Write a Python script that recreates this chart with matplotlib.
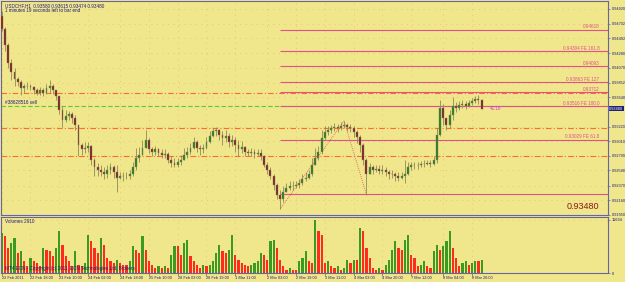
import matplotlib
matplotlib.use('Agg')
import matplotlib.pyplot as plt
import numpy as np

# USDCHF H1 bars, prices in pips (x 0.0001)
first_open = 9482
close_pips = [9463, 9439, 9414, 9400, 9391, 9386, 9377, 9380, 9381, 9379,
              9374, 9371, 9374, 9371, 9377, 9381, 9374, 9366, 9346, 9331,
              9337, 9340, 9334, 9324, 9296, 9289, 9291, 9294, 9274, 9263,
              9260, 9257, 9253, 9260, 9263, 9257, 9248, 9251, 9250, 9251,
              9254, 9263, 9277, 9281, 9291, 9303, 9289, 9286, 9289, 9284,
              9281, 9283, 9274, 9270, 9267, 9271, 9274, 9281, 9286, 9291,
              9300, 9291, 9289, 9291, 9300, 9309, 9316, 9317, 9310, 9306,
              9309, 9300, 9303, 9296, 9289, 9293, 9286, 9284, 9286, 9283,
              9284, 9280, 9267, 9260, 9251, 9238, 9224, 9217, 9228, 9234,
              9236, 9237, 9238, 9241, 9246, 9248, 9253, 9267, 9277, 9286,
              9306, 9314, 9317, 9320, 9321, 9320, 9323, 9324, 9321, 9320,
              9314, 9307, 9296, 9274, 9253, 9263, 9260, 9261, 9258, 9260,
              9257, 9253, 9254, 9250, 9248, 9251, 9254, 9263, 9266, 9267,
              9266, 9268, 9268, 9270, 9268, 9274, 9310, 9349, 9334, 9324,
              9339, 9351, 9349, 9353, 9354, 9351, 9356, 9359, 9361, 9360,
              9348]
high_pips = [9489, 9466, 9443, 9420, 9406, 9394, 9389, 9384, 9386, 9384,
             9380, 9377, 9379, 9377, 9383, 9389, 9383, 9374, 9366, 9351,
             9346, 9344, 9343, 9339, 9324, 9299, 9300, 9300, 9296, 9277,
             9270, 9267, 9264, 9267, 9270, 9266, 9267, 9257, 9256, 9257,
             9260, 9271, 9291, 9293, 9303, 9317, 9306, 9293, 9294, 9291,
             9290, 9289, 9286, 9279, 9276, 9277, 9281, 9291, 9293, 9299,
             9307, 9303, 9296, 9297, 9307, 9316, 9320, 9321, 9319, 9316,
             9317, 9313, 9310, 9307, 9303, 9301, 9294, 9290, 9291, 9289,
             9290, 9289, 9281, 9271, 9263, 9254, 9240, 9231, 9237, 9241,
             9243, 9243, 9244, 9247, 9254, 9257, 9260, 9277, 9291, 9294,
             9317, 9323, 9323, 9324, 9327, 9326, 9329, 9330, 9327, 9326,
             9323, 9317, 9310, 9299, 9277, 9270, 9267, 9267, 9266, 9267,
             9264, 9260, 9260, 9257, 9256, 9257, 9274, 9271, 9271, 9271,
             9271, 9273, 9274, 9274, 9274, 9280, 9320, 9360, 9354, 9334,
             9346, 9364, 9357, 9359, 9360, 9359, 9360, 9363, 9366, 9367,
             9362]
low_pips = [9460, 9431, 9406, 9389, 9381, 9380, 9367, 9371, 9376, 9374,
            9369, 9367, 9367, 9366, 9369, 9371, 9369, 9360, 9340, 9321,
            9329, 9331, 9327, 9317, 9279, 9281, 9284, 9286, 9267, 9250,
            9251, 9250, 9246, 9248, 9253, 9248, 9228, 9246, 9244, 9246,
            9247, 9251, 9260, 9271, 9281, 9291, 9284, 9280, 9281, 9279,
            9277, 9277, 9269, 9264, 9263, 9264, 9267, 9274, 9277, 9283,
            9289, 9286, 9281, 9284, 9289, 9299, 9307, 9309, 9303, 9296,
            9300, 9293, 9294, 9286, 9279, 9284, 9280, 9279, 9280, 9277,
            9279, 9274, 9263, 9253, 9246, 9231, 9217, 9203, 9213, 9227,
            9230, 9231, 9233, 9234, 9238, 9243, 9246, 9250, 9266, 9274,
            9283, 9303, 9310, 9313, 9316, 9314, 9317, 9320, 9316, 9314,
            9307, 9299, 9286, 9267, 9224, 9253, 9254, 9256, 9253, 9254,
            9251, 9247, 9248, 9244, 9243, 9246, 9241, 9252, 9260, 9261,
            9261, 9263, 9264, 9266, 9264, 9267, 9270, 9308, 9324, 9317,
            9320, 9331, 9343, 9346, 9349, 9347, 9350, 9353, 9356, 9354,
            9347]
volumes = [8800, 8140, 5500, 6600, 7700, 4400, 4840, 2640, 1540, 3300,
           2640, 2200, 1540, 5500, 5060, 4840, 3740, 5500, 9240, 6160,
           3740, 2640, 1540, 4840, 1760, 1540, 2200, 8360, 7040, 5500,
           4400, 7700, 6160, 3300, 2640, 2200, 2860, 2200, 1760, 1760,
           2640, 5940, 5060, 4400, 8140, 5060, 2640, 1760, 1100, 1540,
           1100, 1540, 1100, 3960, 5940, 5940, 3960, 6600, 7260, 3740,
           2640, 1760, 1100, 1760, 1540, 1760, 2640, 4400, 6160, 4840,
           4400, 5060, 8360, 3960, 2860, 2200, 1760, 1540, 1760, 2200,
           2640, 4400, 3960, 2860, 7040, 7260, 5500, 2860, 1540, 660,
           1100, 660, 660, 2640, 3300, 4840, 2640, 2200, 11694, 9240,
           8360, 2200, 2640, 1540, 1100, 1540, 660, 1100, 2860, 2200,
           2860, 2860, 9900, 9240, 5500, 3300, 1100, 660, 1100, 660,
           1760, 2860, 5060, 7040, 5500, 5060, 7260, 8360, 3960, 3300,
           1540, 1760, 2640, 1540, 1100, 4840, 6160, 5060, 5940, 7040,
           9240, 5500, 3300, 1540, 2200, 2640, 1760, 2200, 2640, 2640,
           2910]

# x axis labels (bar index -> time label)
tick_bars = [0, 9, 18, 27, 37, 46, 55, 64, 73, 83, 92, 101, 110, 119, 128, 138, 147]
tick_labels = ['22 Feb 2011', '22 Feb 18:00', '23 Feb 10:00', '24 Feb 02:00',
               '24 Feb 18:00', '25 Feb 10:00', '28 Feb 03:00', '28 Feb 19:00',
               '1 Mar 11:00', '2 Mar 03:00', '2 Mar 19:00', '3 Mar 11:00',
               '4 Mar 03:00', '4 Mar 20:00', '7 Mar 12:00', '8 Mar 04:00',
               '8 Mar 20:00']
price_ticks = [0.94920, 0.94702, 0.94492, 0.94280, 0.94070, 0.93852, 0.93640,
               0.93220, 0.93010, 0.92799, 0.92588, 0.92370, 0.92160, 0.91950]

# fibo expansion levels and other objects
fe_levels = [0.94618, 0.94304, 0.94093, 0.93863, 0.93712, 0.93516, 0.93029, 0.92241]
fe_labels = ['0.94618', '0.94304 FE 161.8', '0.94093', '0.93863 FE 127',
             '0.93712', '0.93516 FE 100.0', '0.93029 FE 61.8', '']
fe_anchor_bars = [87, 107, 114]
fe_anchor_prices = [0.92030, 0.93300, 0.92241]
dashdot_levels = [0.93707, 0.93195, 0.92795]
order_level = 0.93514
last_price = 0.93480

close = np.array(close_pips) / 10000
high = np.array(high_pips) / 10000
low = np.array(low_pips) / 10000
open_ = np.concatenate([[first_open / 10000], close[:-1]])
high = np.maximum(high, np.maximum(open_, close))
low = np.minimum(low, np.minimum(open_, close))
bars = np.arange(len(close))

bg = '#F0E68C'
frame = '#6464a8'
navy = '#1c1c80'
pink = '#e0508a'
small = dict(family='Liberation Sans', fontsize=3.3)
tiny = dict(family='Liberation Sans', fontsize=2.8)

fig = plt.figure(figsize=(6.25, 2.82), dpi=100, facecolor=bg)
ax = fig.add_axes([0.0016, 0.2376, 0.9712, 0.7589], facecolor=bg)
axv = fig.add_axes([0.0016, 0.0319, 0.9712, 0.1986], facecolor=bg)

# candles
up = close >= open_
ax.vlines(bars, low, high, color='#8e8a5a', linewidth=0.6, zorder=3)
body_lo = np.minimum(open_, close)
body_h = np.maximum(np.abs(close - open_), 0.00004)
ax.bar(bars[up], body_h[up], bottom=body_lo[up], width=0.6,
       color='#237a23', edgecolor='#8e8a5a', linewidth=0.3, zorder=4)
ax.bar(bars[~up], body_h[~up], bottom=body_lo[~up], width=0.6,
       color='#7a1c2a', edgecolor='#8e8a5a', linewidth=0.3, zorder=4)

# horizontal objects
xmax = 189.5
for lev in dashdot_levels:
    ax.axhline(lev, color='#ff6a30', linestyle=(0, (5, 2, 1, 2)), linewidth=0.8, zorder=2)
ax.axhline(order_level, color='#5cc83c', linestyle=(0, (4, 2)), linewidth=0.8, zorder=2)
ax.text(1, order_level + 0.0001, '#38628516 sell', color=navy, va='bottom', **small)
for lev, lab in zip(fe_levels, fe_labels):
    ax.hlines(lev, fe_anchor_bars[0], xmax, color=pink, linewidth=0.8, zorder=2)
    if lab:
        ax.text(186.8, lev + 0.00005, lab, color=pink, ha='right', va='bottom', **small)
ax.plot(fe_anchor_bars, fe_anchor_prices, color='#d0506a', linestyle=(0, (1, 1.5)),
        linewidth=0.6, zorder=5)
ax.text(152.5, last_price + 0.00002, '41:18', color='#d040d0', va='center', **small)

ax.text(1, 0.94958, 'USDCHF,H1  0.93580 0.93615 0.93474 0.93480', color=navy,
        va='center', **small)
ax.text(1, 0.94887, '1 minutes 19 seconds left to bar end', color=navy,
        va='center', **small)
ax.text(186.8, 0.92005, '0.93480', color='#8b1a1a', ha='right', va='bottom',
        family='Liberation Sans', fontsize=6.5)

ax.set_xlim(-0.22, xmax)
ax.set_ylim(0.91945, 0.9503)
ax.yaxis.tick_right()
ax.set_yticks(price_ticks)
ax.set_yticklabels([f'{v:.5f}' for v in price_ticks], color=navy, **tiny)
ax.tick_params(axis='y', length=1.5, width=0.5, color=frame, pad=1)
ax.set_xticks(tick_bars)
ax.tick_params(axis='x', length=0, labelbottom=False)
ax.grid(True, color='#e2a868', linestyle=(0, (1, 7)), linewidth=0.5)
ax.set_axisbelow(True)
for sp in ax.spines.values():
    sp.set_color(frame)
    sp.set_linewidth(0.8)
# current price marker on the price scale
ax.text(1.002, last_price, f'{last_price:.5f}', transform=ax.get_yaxis_transform(),
        color='white', va='center', ha='left',
        bbox=dict(boxstyle='square,pad=0.15', fc='#20207a', ec='none'), **tiny)

# volumes
vol = np.array(volumes)
vol_up = np.concatenate([[True], vol[1:] > vol[:-1]])
axv.bar(bars[vol_up], vol[vol_up], width=0.7, color='#3a9a22', linewidth=0)
axv.bar(bars[~vol_up], vol[~vol_up], width=0.7, color='#ff2a20', linewidth=0)
axv.set_xlim(-0.22, xmax)
axv.set_ylim(0, 12300)
axv.yaxis.tick_right()
axv.set_yticks([0, 11694])
axv.set_yticklabels(['0', '11694'], color=navy, **tiny)
axv.tick_params(axis='y', length=1.5, width=0.5, color=frame, pad=1)
axv.set_xticks(tick_bars)
axv.set_xticklabels(tick_labels, color=navy, ha='left', **tiny)
axv.tick_params(axis='x', length=2, width=0.5, color=frame, pad=0.5)
axv.grid(True, color='#e2a868', linestyle=(0, (1, 7)), linewidth=0.5)
axv.set_axisbelow(True)
for sp in axv.spines.values():
    sp.set_color(frame)
    sp.set_linewidth(0.8)
axv.text(1, 11300, 'Volumes 2910', color=navy, va='center', **small)
axv.text(1, 900, 'MT4 ECN - Copyright (c) 2011, ECN Technologies Ltd. Brokers', color=navy,
         va='center', **small)

fig.savefig('out.png', dpi=100, facecolor=bg)
